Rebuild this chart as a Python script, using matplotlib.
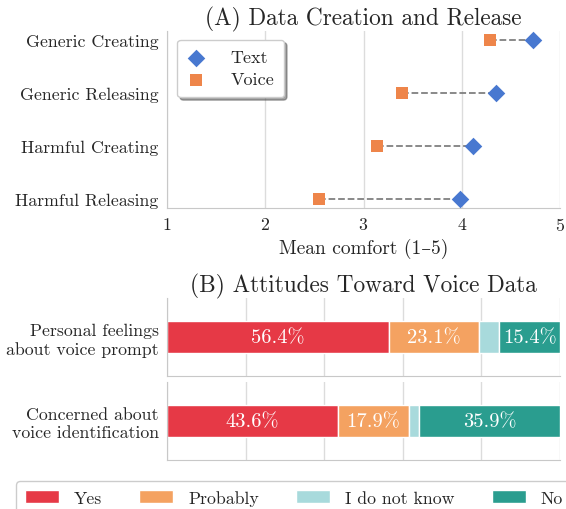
import matplotlib
matplotlib.use("Agg")
import matplotlib.pyplot as plt
import numpy as np
from matplotlib.patches import Patch

plt.rcParams['font.family'] = ['cmr10', 'DejaVu Serif']
plt.rcParams['mathtext.fontset'] = 'cm'
plt.rcParams['axes.formatter.use_mathtext'] = True

# ---- data ----
scenarios = ["Generic Creating", "Generic Releasing", "Harmful Creating", "Harmful Releasing"]
text_means = [4.73, 4.35, 4.11, 3.98]
voice_means = [4.29, 3.39, 3.14, 2.55]

questions = ["Personal feelings\nabout voice prompt", "Concerned about\nvoice identification"]
answer_labels = ["Yes", "Probably", "I do not know", "No"]
yes_pct = [56.4, 43.6]
probably_pct = [23.1, 17.9]
idk_pct = [5.1, 2.6]
no_pct = [15.4, 35.9]

answer_colors = ["#e63946", "#f4a261", "#a8dadc", "#2a9d8f"]
text_color = "#4878d0"
voice_color = "#ee854a"
grid_color = "#dcdcdc"
spine_color = "#c8c8c8"
label_color = "#262626"

fig = plt.figure(figsize=(5.66, 5.10), dpi=100)
W, H = 566, 510

def ax_rect(x0, y0, x1, y1):
    return [x0 / W, 1 - y1 / H, (x1 - x0) / W, (y1 - y0) / H]

# ---- panel A ----
axA = fig.add_axes(ax_rect(167, 32, 560, 209))
ypos = np.arange(len(scenarios))
for i in range(len(scenarios)):
    axA.plot([voice_means[i], text_means[i]], [ypos[i], ypos[i]], ls='--', color='#808080', lw=1.3, zorder=2)
axA.scatter(text_means, ypos, marker='D', s=80, color=text_color, zorder=3, label='Text', linewidths=0)
axA.scatter(voice_means, ypos, marker='s', s=80, color=voice_color, zorder=3, label='Voice', linewidths=0)
axA.set_xlim(1, 5)
axA.set_ylim(3.17, -0.17)
axA.set_xticks([1, 2, 3, 4, 5])
axA.set_yticks(ypos)
axA.set_yticklabels(scenarios)
axA.grid(axis='x', color=grid_color, lw=1)
axA.set_axisbelow(True)
for s in ['top', 'right']:
    axA.spines[s].set_visible(False)
for s in ['left', 'bottom']:
    axA.spines[s].set_color(spine_color)
axA.tick_params(length=0, labelsize=12.8, colors=label_color, pad=6)
axA.set_xlabel("Mean comfort (1–5)", fontsize=14, color=label_color, labelpad=3)
axA.set_title("(A) Data Creation and Release", fontsize=16.8, color=label_color, pad=3)
legA = axA.legend(loc='upper left', fontsize=13, shadow=True, framealpha=1,
                  borderpad=0.55, handlelength=1.0, handletextpad=1.4, labelspacing=0.35,
                  bbox_to_anchor=(0.026, 0.95), borderaxespad=0.0)
legA.get_frame().set_edgecolor('#cccccc')
for t in legA.get_texts():
    t.set_color(label_color)

# ---- panel B ----
rows = [(299, 377), (383, 461)]
series = [yes_pct, probably_pct, idk_pct, no_pct]
axesB = []
for qi, (y0, y1) in enumerate(rows):
    ax = fig.add_axes(ax_rect(167, y0, 560, y1))
    left = 0
    for si, vals in enumerate(series):
        v = vals[qi]
        ax.barh([0], [v], left=left, height=0.4, color=answer_colors[si], edgecolor='white', lw=1, zorder=2)
        if v >= 10:
            ax.text(left + v / 2, 0, f"{v:.1f}%", ha='center', va='center', color='white', fontsize=14.8)
        left += v
    ax.set_xlim(0, 100)
    ax.set_ylim(-0.5, 0.5)
    ax.set_xticks([0, 20, 40, 60, 80, 100])
    ax.set_xticklabels([])
    ax.set_yticks([0])
    ax.set_yticklabels([questions[qi]], multialignment='right')
    ax.grid(axis='x', color=grid_color, lw=1)
    ax.set_axisbelow(True)
    for s in ['top', 'right']:
        ax.spines[s].set_visible(False)
    for s in ['left', 'bottom']:
        ax.spines[s].set_color(spine_color)
    ax.tick_params(length=0, labelsize=12.8, colors=label_color, pad=6)
    axesB.append(ax)
axesB[0].set_title("(B) Attitudes Toward Voice Data", fontsize=16.8, color=label_color, pad=-5)

handles = [Patch(facecolor=c, edgecolor='white', label=l) for c, l in zip(answer_colors, answer_labels)]
legB = fig.legend(handles=handles, loc='upper left', bbox_to_anchor=(16 / W, 1 - 482 / H), ncol=4,
                  fontsize=12.8, frameon=True, framealpha=1, handlelength=1.9, handletextpad=0.85,
                  columnspacing=2.1, borderpad=0.5, borderaxespad=0)
legB.get_frame().set_edgecolor('#cccccc')
for t in legB.get_texts():
    t.set_color(label_color)

fig.savefig("out.png", dpi=100)
